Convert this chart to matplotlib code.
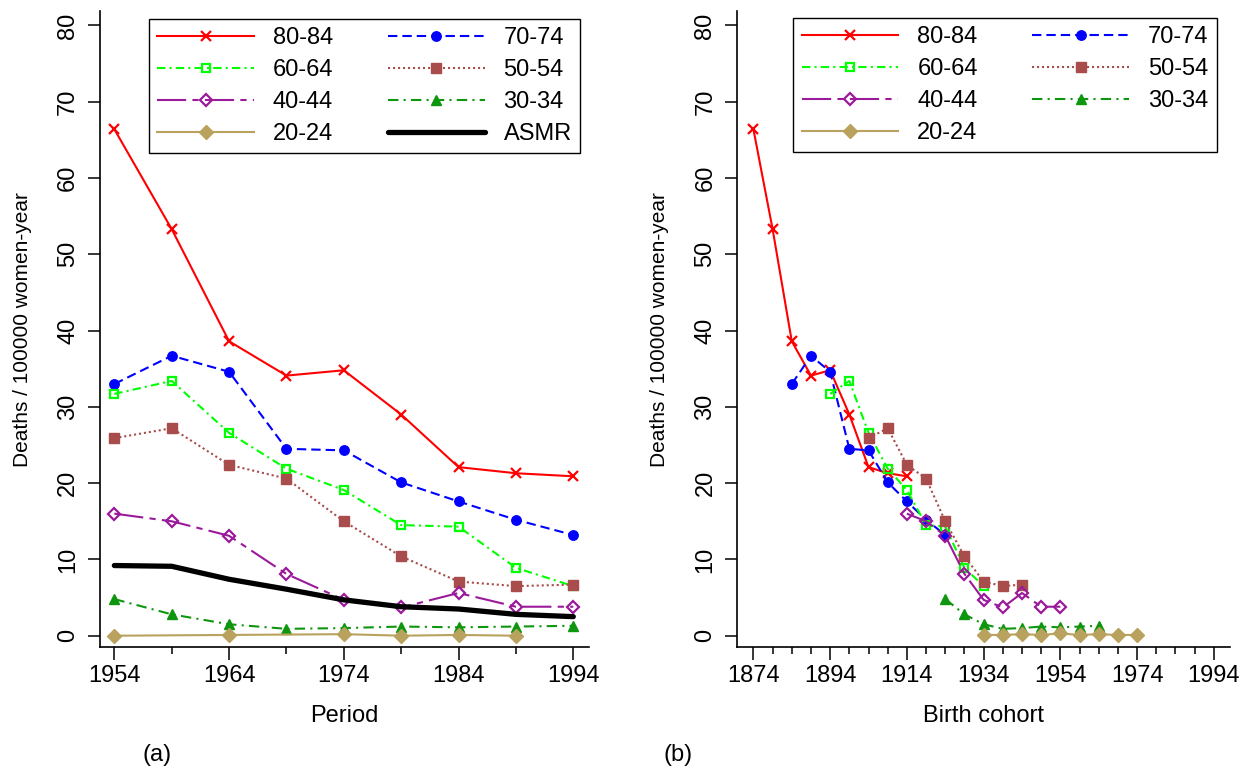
import matplotlib
matplotlib.use('Agg')
import matplotlib.pyplot as plt
from matplotlib.ticker import MultipleLocator

plt.rcParams['font.family'] = ['Liberation Sans', 'DejaVu Sans']

# Données (taux pour 100000 femmes-années)
periodes = [1954, 1959, 1964, 1969, 1974, 1979, 1984, 1989, 1994]
taux_80_84 = [66.4, 53.3, 38.6, 34.1, 34.8, 29.0, 22.1, 21.3, 20.9]
taux_70_74 = [33.0, 36.7, 34.6, 24.5, 24.3, 20.1, 17.6, 15.2, 13.2]
taux_60_64 = [31.7, 33.4, 26.6, 21.9, 19.1, 14.5, 14.3, 8.9, 6.5]
taux_50_54 = [25.9, 27.2, 22.4, 20.6, 15.0, 10.4, 7.1, 6.5, 6.7]
taux_40_44 = [16.0, 15.0, 13.1, 8.1, 4.7, 3.7, 5.6, 3.8, 3.8]
taux_30_34 = [4.8, 2.8, 1.5, 0.9, 1.0, 1.2, 1.1, 1.2, 1.3]
asmr = [9.2, 9.1, 7.4, 6.1, 4.7, 3.8, 3.5, 2.8, 2.5]

# 20-24 : points manquants sur le graphique (a)
periodes_20_24 = [1954, 1964, 1974, 1979, 1984, 1989]
taux_20_24_periode = [0.0, 0.1, 0.2, 0.0, 0.1, 0.0]
cohortes_20_24 = [1934, 1939, 1944, 1949, 1954, 1959, 1964, 1969, 1974]
taux_20_24_cohorte = [0.1, 0.1, 0.2, 0.1, 0.3, 0.1, 0.2, 0.1, 0.1]

# Styles façon Stata
styles = {
    '80-84': dict(color='#ff0000', ls='-', marker='x', ms=6.5, mew=1.6, mfc='#ff0000'),
    '70-74': dict(color='#0000ff', dashes=(4.5, 2.4), marker='o', ms=6.8),
    '60-64': dict(color='#00ff00', dashes=(4, 2, 1, 2), marker='s', ms=6, mfc='none', mew=1.6),
    '50-54': dict(color='#a84c4c', dashes=(1, 1.4), marker='s', ms=6.8),
    '40-44': dict(color='#9a1a9a', dashes=(14, 3, 3, 3), marker='D', ms=6.5, mfc='none', mew=1.6),
    '30-34': dict(color='#0e960e', dashes=(5, 2.5, 1, 2.5), marker='^', ms=7.8),
    '20-24': dict(color='#b9a25e', ls='-', marker='D', ms=6.8),
}
lw = 1.5
fs = 17

fig = plt.figure(figsize=(12.46, 7.69), dpi=100)
W, H = 1246, 769
bas = 1 - 647.3 / H
haut = (647.3 - 11) / H
ax1 = fig.add_axes([100 / W, bas, (589 - 100) / W, haut])
ax2 = fig.add_axes([737.3 / W, bas, (1229.6 - 737.3) / W, haut])

# (a) par période
series = [('80-84', taux_80_84), ('70-74', taux_70_74), ('60-64', taux_60_64),
          ('50-54', taux_50_54), ('40-44', taux_40_44), ('30-34', taux_30_34)]
h1 = {}
for nom, y in series:
    h1[nom], = ax1.plot(periodes, y, lw=lw, label=nom, **styles[nom])
h1['20-24'], = ax1.plot(periodes_20_24, taux_20_24_periode, lw=lw, label='20-24', **styles['20-24'])
h1['ASMR'], = ax1.plot(periodes, asmr, color='black', lw=3.8, solid_capstyle='round', label='ASMR')

# (b) par cohorte de naissance
ages = {'80-84': 80, '70-74': 70, '60-64': 60, '50-54': 50, '40-44': 40, '30-34': 30}
h2 = {}
for nom, y in series:
    cohortes = [p - ages[nom] for p in periodes]
    h2[nom], = ax2.plot(cohortes, y, lw=lw, label=nom, **styles[nom])
h2['20-24'], = ax2.plot(cohortes_20_24, taux_20_24_cohorte, lw=lw, label='20-24', **styles['20-24'])

ordre1 = ['80-84', '60-64', '40-44', '20-24', '70-74', '50-54', '30-34', 'ASMR']
ordre2 = ['80-84', '60-64', '40-44', '20-24', '70-74', '50-54', '30-34']

leg_kw = dict(ncol=2, fontsize=fs, frameon=True, fancybox=False, framealpha=1,
              edgecolor='black', handlelength=4.1, handletextpad=0.8,
              columnspacing=2.3, labelspacing=0.42, borderpad=0.35, borderaxespad=0)
l1 = ax1.legend([h1[k] for k in ordre1], ordre1, loc='upper center',
                bbox_to_anchor=(364.5 / W, 1 - 19 / H), bbox_transform=fig.transFigure, **leg_kw)
l2 = ax2.legend([h2[k] for k in ordre2], ordre2, loc='upper center',
                bbox_to_anchor=(1005 / W, 1 - 18 / H), bbox_transform=fig.transFigure, **leg_kw)
for l in (l1, l2):
    l.get_frame().set_linewidth(1.0)

for ax in (ax1, ax2):
    ax.set_ylim(-1.52, 81.9)
    ax.yaxis.set_major_locator(MultipleLocator(10))
    for s in ('top', 'right'):
        ax.spines[s].set_visible(False)
    for s in ('left', 'bottom'):
        ax.spines[s].set_linewidth(1.2)
    ax.tick_params(axis='both', which='major', length=9, width=1.1, labelsize=fs, direction='out')
    ax.tick_params(axis='x', which='minor', length=5, width=1.1, direction='out')
    ax.tick_params(axis='y', pad=6)
    for t in ax.get_yticklabels():
        t.set_rotation(90)
        t.set_va('center')
    ax.set_ylabel('Deaths / 100000 women-year', fontsize=15, labelpad=18)

ax1.set_xlim(1952.75, 1995.37)
ax1.set_xticks([1954, 1964, 1974, 1984, 1994])
ax1.set_xticks([1959, 1969, 1979, 1989], minor=True)
ax1.set_xlabel('Period', fontsize=fs, labelpad=13)

ax2.set_xlim(1869.8, 1998.1)
ax2.set_xticks([1874, 1894, 1914, 1934, 1954, 1974, 1994])
ax2.set_xticks([a for a in range(1879, 1995, 5) if (a - 1874) % 20 != 0], minor=True)
ax2.set_xlabel('Birth cohort', fontsize=fs, labelpad=13)

fig.text(157 / W, 1 - 755 / H, '(a)', fontsize=fs, ha='center', va='center')
fig.text(678 / W, 1 - 755 / H, '(b)', fontsize=fs, ha='center', va='center')

fig.savefig('out.png', dpi=100)
